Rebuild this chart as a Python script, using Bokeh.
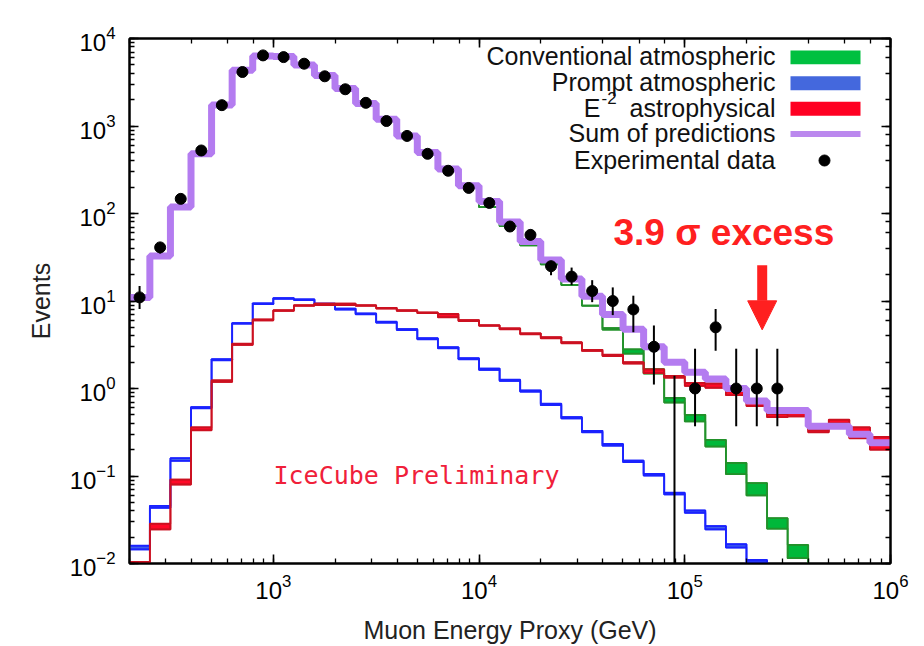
import numpy as np
from bokeh.plotting import figure
from bokeh.models import (LogAxis, Label, Arrow, NormalHead, Range1d,
                          ColumnDataSource, BoxAnnotation, CustomJSTickFormatter)
from bokeh.embed import file_html
from bokeh.resources import INLINE

# ---------------- data ----------------
bin_edge_exponents = [2.3, 2.4, 2.5, 2.6, 2.7, 2.8, 2.9, 3.0, 3.1, 3.2, 3.3, 3.4, 3.5,
                      3.6, 3.7, 3.8, 3.9, 4.0, 4.1, 4.2, 4.3, 4.4, 4.5, 4.6, 4.7, 4.8,
                      4.9, 5.0, 5.1, 5.2, 5.3, 5.4, 5.5, 5.6, 5.7, 5.8, 5.9, 6.0]

# Sum of predictions (purple)
total_pred = [11.0, 32.7, 119, 481, 1733, 4326, 6300,
              6240, 4977, 3767, 2680, 1811, 1191, 770, 498, 322, 208,
              137, 80, 48, 29.5, 17.9, 11.3, 7.0, 4.77, 3.0, 2.0,
              1.53, 1.28, 1.0, 0.72, 0.56, 0.56, 0.37, 0.37, 0.30, 0.24]

# Conventional atmospheric (green) band
conv_lo = [10.9, 32.5, 118.5, 480, 1730, 4320, 6290,
           6225, 4960, 3750, 2665, 1795, 1180, 760, 488, 312, 198,
           118, 71.8, 43.3, 26.3, 15.2, 8.85, 4.7, 2.5, 1.48, 0.69,
           0.42, 0.217, 0.105, 0.060, 0.025, 0.0115, 0.0048, 0.0019, 0.0008, 0.0003]
conv_hi = [10.9, 32.5, 118.5, 480, 1730, 4320, 6290,
           6225, 4960, 3750, 2665, 1795, 1180, 760, 488, 312, 198,
           118, 71.8, 43.3, 26.3, 15.2, 8.85, 4.9, 2.8, 1.66, 0.78,
           0.50, 0.259, 0.141, 0.083, 0.033, 0.0163, 0.0068, 0.0028, 0.0012, 0.0005]

# Prompt atmospheric (blue) band
prompt_lo = [0.0145, 0.0433, 0.149, 0.593, 2.10, 5.50, 9.20,
             10.6, 10.25, 9.15, 8.0, 7.05, 5.65, 4.65, 3.65, 2.88, 2.16,
             1.63, 1.22, 0.92, 0.645, 0.455, 0.316, 0.222, 0.144, 0.101, 0.0615,
             0.0380, 0.0245, 0.0152, 0.0103, 0.0062, 0.0039, 0.0024, 0.0015, 0.0009, 0.0006]
prompt_hi = [0.0160, 0.0456, 0.160, 0.614, 2.16, 5.60, 9.40,
             10.8, 10.45, 9.35, 8.2, 7.2, 5.8, 4.78, 3.75, 2.96, 2.22,
             1.69, 1.26, 0.95, 0.67, 0.472, 0.328, 0.232, 0.150, 0.106, 0.0645,
             0.0404, 0.0268, 0.0166, 0.0110, 0.0068, 0.0043, 0.0027, 0.0017, 0.0011, 0.0007]

# E^-2 astrophysical (red) band
astro_lo = [0.0098, 0.0245, 0.080, 0.333, 1.19, 3.15, 6.0,
            7.7, 8.8, 9.0, 9.0, 8.8, 8.2, 7.7, 7.25, 6.5, 5.9,
            5.2, 4.75, 4.17, 3.75, 3.28, 2.69, 2.35, 1.93, 1.50, 1.33,
            1.07, 1.02, 0.84, 0.63, 0.47, 0.48, 0.316, 0.40, 0.27, 0.20]
astro_hi = [0.0104, 0.0285, 0.091, 0.360, 1.24, 3.25, 6.15,
            7.85, 8.95, 9.35, 9.35, 8.95, 8.35, 7.85, 7.4, 7.1, 6.05,
            5.3, 4.87, 4.27, 3.85, 3.38, 2.77, 2.43, 2.0, 1.65, 1.39,
            1.16, 1.14, 0.93, 0.70, 0.51, 0.52, 0.336, 0.44, 0.36, 0.28]

# Experimental data (first 32 bins)
data_counts = [11, 41, 147, 525, 1730, 4140, 6410,
               6130, 5150, 3700, 2630, 1840, 1140, 770, 481, 308, 196,
               132, 71, 57, 25, 19, 13, 10, 8, 3, 0,
               1, 5, 1, 1, 1]
data_err_lo = [8.1, 35, 135, 502, 1690, 4075, 6330,
               6050, 5080, 3640, 2580, 1800, 1106, 742, 459, 290, 182,
               121, 63, 49, 19.7, 15.2, 9.7, 6.9, 4.4, 1.11, 0.001,
               0.37, 2.7, 0.37, 0.37, 0.37]
data_err_hi = [14.8, 47, 159, 548, 1770, 4205, 6490,
               6210, 5220, 3760, 2680, 1880, 1174, 798, 503, 326, 210,
               143, 80, 65, 28.7, 24.1, 17.3, 14.3, 11.5, 5.25, 1.4,
               2.85, 8.1, 2.85, 2.85, 2.85]

x_label = "Muon Energy Proxy (GeV)"
y_label = "Events"

# ---------------- layout helpers ----------------
W, H = 924, 646
FL, FR, FT, FB = 129, 890, 38, 566          # frame in pixels
XMIN, XMAX, YMIN, YMAX = 200.0, 1e6, 1e-2, 1e4
LX0, LX1, LY0, LY1 = np.log10(XMIN), np.log10(XMAX), np.log10(YMIN), np.log10(YMAX)


def px_x(px):
    return 10 ** (LX0 + (px - FL) / (FR - FL) * (LX1 - LX0))


def px_y(py):
    return 10 ** (LY1 - (py - FT) / (FB - FT) * (LY1 - LY0))


FONT = "Liberation Sans"

p = figure(width=W, height=H, x_axis_type="log", y_axis_type="log",
           x_range=Range1d(XMIN, XMAX), y_range=Range1d(YMIN, YMAX),
           output_backend="svg", toolbar_location=None,
           min_border_left=FL, min_border_right=W - FR,
           min_border_top=FT, min_border_bottom=H - FB)
p.background_fill_color = "white"
p.border_fill_color = "white"
p.outline_line_color = "black"
p.outline_line_width = 2
p.xgrid.visible = False
p.ygrid.visible = False

edges = 10 ** np.array(bin_edge_exponents)
left, right = edges[:-1], edges[1:]


def band(lo, hi, fill, line):
    src = ColumnDataSource(dict(left=left, right=right, bottom=lo, top=hi))
    p.quad(left="left", right="right", bottom="bottom", top="top", source=src,
           fill_color=fill, line_color=line, line_width=1.5)
    p.step(x=edges, y=list(hi) + [hi[-1]], mode="after", line_color=line, line_width=1.8)
    p.step(x=edges, y=list(lo) + [lo[-1]], mode="after", line_color=line, line_width=1.8)


band(conv_lo, conv_hi, "#00b83a", "#22912a")
band(prompt_lo, prompt_hi, "#3f5fe8", "#1a22ff")
band(astro_lo, astro_hi, "#ff0a28", "#cc1020")

p.step(x=edges, y=list(total_pred) + [total_pred[-1]], mode="after",
       line_color="#b47cf0", line_width=7)

n = len(data_counts)
centers = 10 ** ((np.array(bin_edge_exponents[:n]) + np.array(bin_edge_exponents[1:n + 1])) / 2)
p.segment(x0=centers, y0=data_err_lo, x1=centers, y1=data_err_hi,
          line_color="black", line_width=2)
mask = np.array(data_counts) > 0
p.scatter(x=centers[mask], y=np.array(data_counts, dtype=float)[mask],
          size=11, color="black")


# ---------------- axes ----------------
def style_axis(ax):
    ax.major_tick_in = 9
    ax.major_tick_out = 0
    ax.minor_tick_in = 5
    ax.minor_tick_out = 0
    ax.axis_line_width = 2
    ax.major_tick_line_width = 1.6
    ax.minor_tick_line_width = 1.3
    ax.major_label_text_font = FONT
    ax.major_label_text_font_size = "24px"
    ax.major_label_text_color = "black"
    ax.axis_label_text_font = FONT
    ax.axis_label_text_font_size = "25px"
    ax.axis_label_text_font_style = "normal"
    ax.axis_label_text_color = "#222222"


style_axis(p.xaxis[0])
style_axis(p.yaxis[0])
p.xaxis[0].axis_label = x_label
p.yaxis[0].axis_label = y_label
p.xaxis[0].major_label_standoff = 10
p.yaxis[0].major_label_standoff = 14
p.xaxis[0].axis_label_standoff = 14
p.yaxis[0].axis_label_standoff = 12

blank = CustomJSTickFormatter(code="return '';")
ax_r = LogAxis(formatter=blank)
ax_t = LogAxis(formatter=blank)
style_axis(ax_r)
style_axis(ax_t)
p.add_layout(ax_r, "right")
p.add_layout(ax_t, "above")

# faint slide border seen in the reference screenshot
p.add_layout(BoxAnnotation(left=17, right=W + 20, top=5, bottom=H + 20,
                           left_units="canvas", right_units="canvas",
                           top_units="canvas", bottom_units="canvas",
                           fill_alpha=0, line_color="#d6d6d6", line_width=2))

# ---------------- annotations ----------------
RED = "#ff2020"
SHIFT = 0.4  # Bokeh places the alphabetic baseline lower than the canvas does


def label(xp, yb, text, size, **kw):
    p.add_layout(Label(x=px_x(xp), y=px_y(yb - SHIFT * size), text=text,
                       text_font_size=f"{size}px", text_baseline="alphabetic", **kw))


label(613, 248, "3.9 σ excess", 37, text_font=FONT, text_font_style="bold", text_color=RED)
p.add_layout(Arrow(end=NormalHead(size=29, fill_color=RED, line_color=RED, line_width=1),
                   x_start=px_x(761.7), y_start=px_y(266), x_end=px_x(761.7), y_end=px_y(331),
                   line_color=RED, line_width=10))
label(273, 487, "IceCube Preliminary", 25, text_font="DejaVu Sans Mono", text_color="#f0203a")

# ---------------- legend (manual, text left of swatch) ----------------
TX = 775
rows = [66, 92, 117.7, 143, 169.7]
row_c = [57, 83, 108.7, 134, 160.7]
for txt, yb in [("Conventional atmospheric", rows[0]), ("Prompt atmospheric", rows[1]),
                ("astrophysical", rows[2]), ("Sum of predictions", rows[3]),
                ("Experimental data", rows[4])]:
    label(TX, yb, txt, 25, text_font=FONT, text_align="right", text_color="#111111")
label(600, rows[2], "E", 25, text_font=FONT, text_align="right", text_color="#111111")
label(601, 105, "-2", 17, text_font=FONT, text_align="left", text_color="#111111")

for (c, hh), yc in zip([("#00c040", 14), ("#4468dd", 14), ("#ff0022", 14), ("#bb88ee", 6)],
                       row_c[:4]):
    p.add_layout(BoxAnnotation(left=px_x(790), right=px_x(860), bottom=px_y(yc + hh / 2),
                               top=px_y(yc - hh / 2), fill_color=c, fill_alpha=1,
                               line_color=None))
p.scatter(x=[px_x(824)], y=[px_y(row_c[4])], size=11, color="black")

open("out.html", "w").write(file_html(p, INLINE))
